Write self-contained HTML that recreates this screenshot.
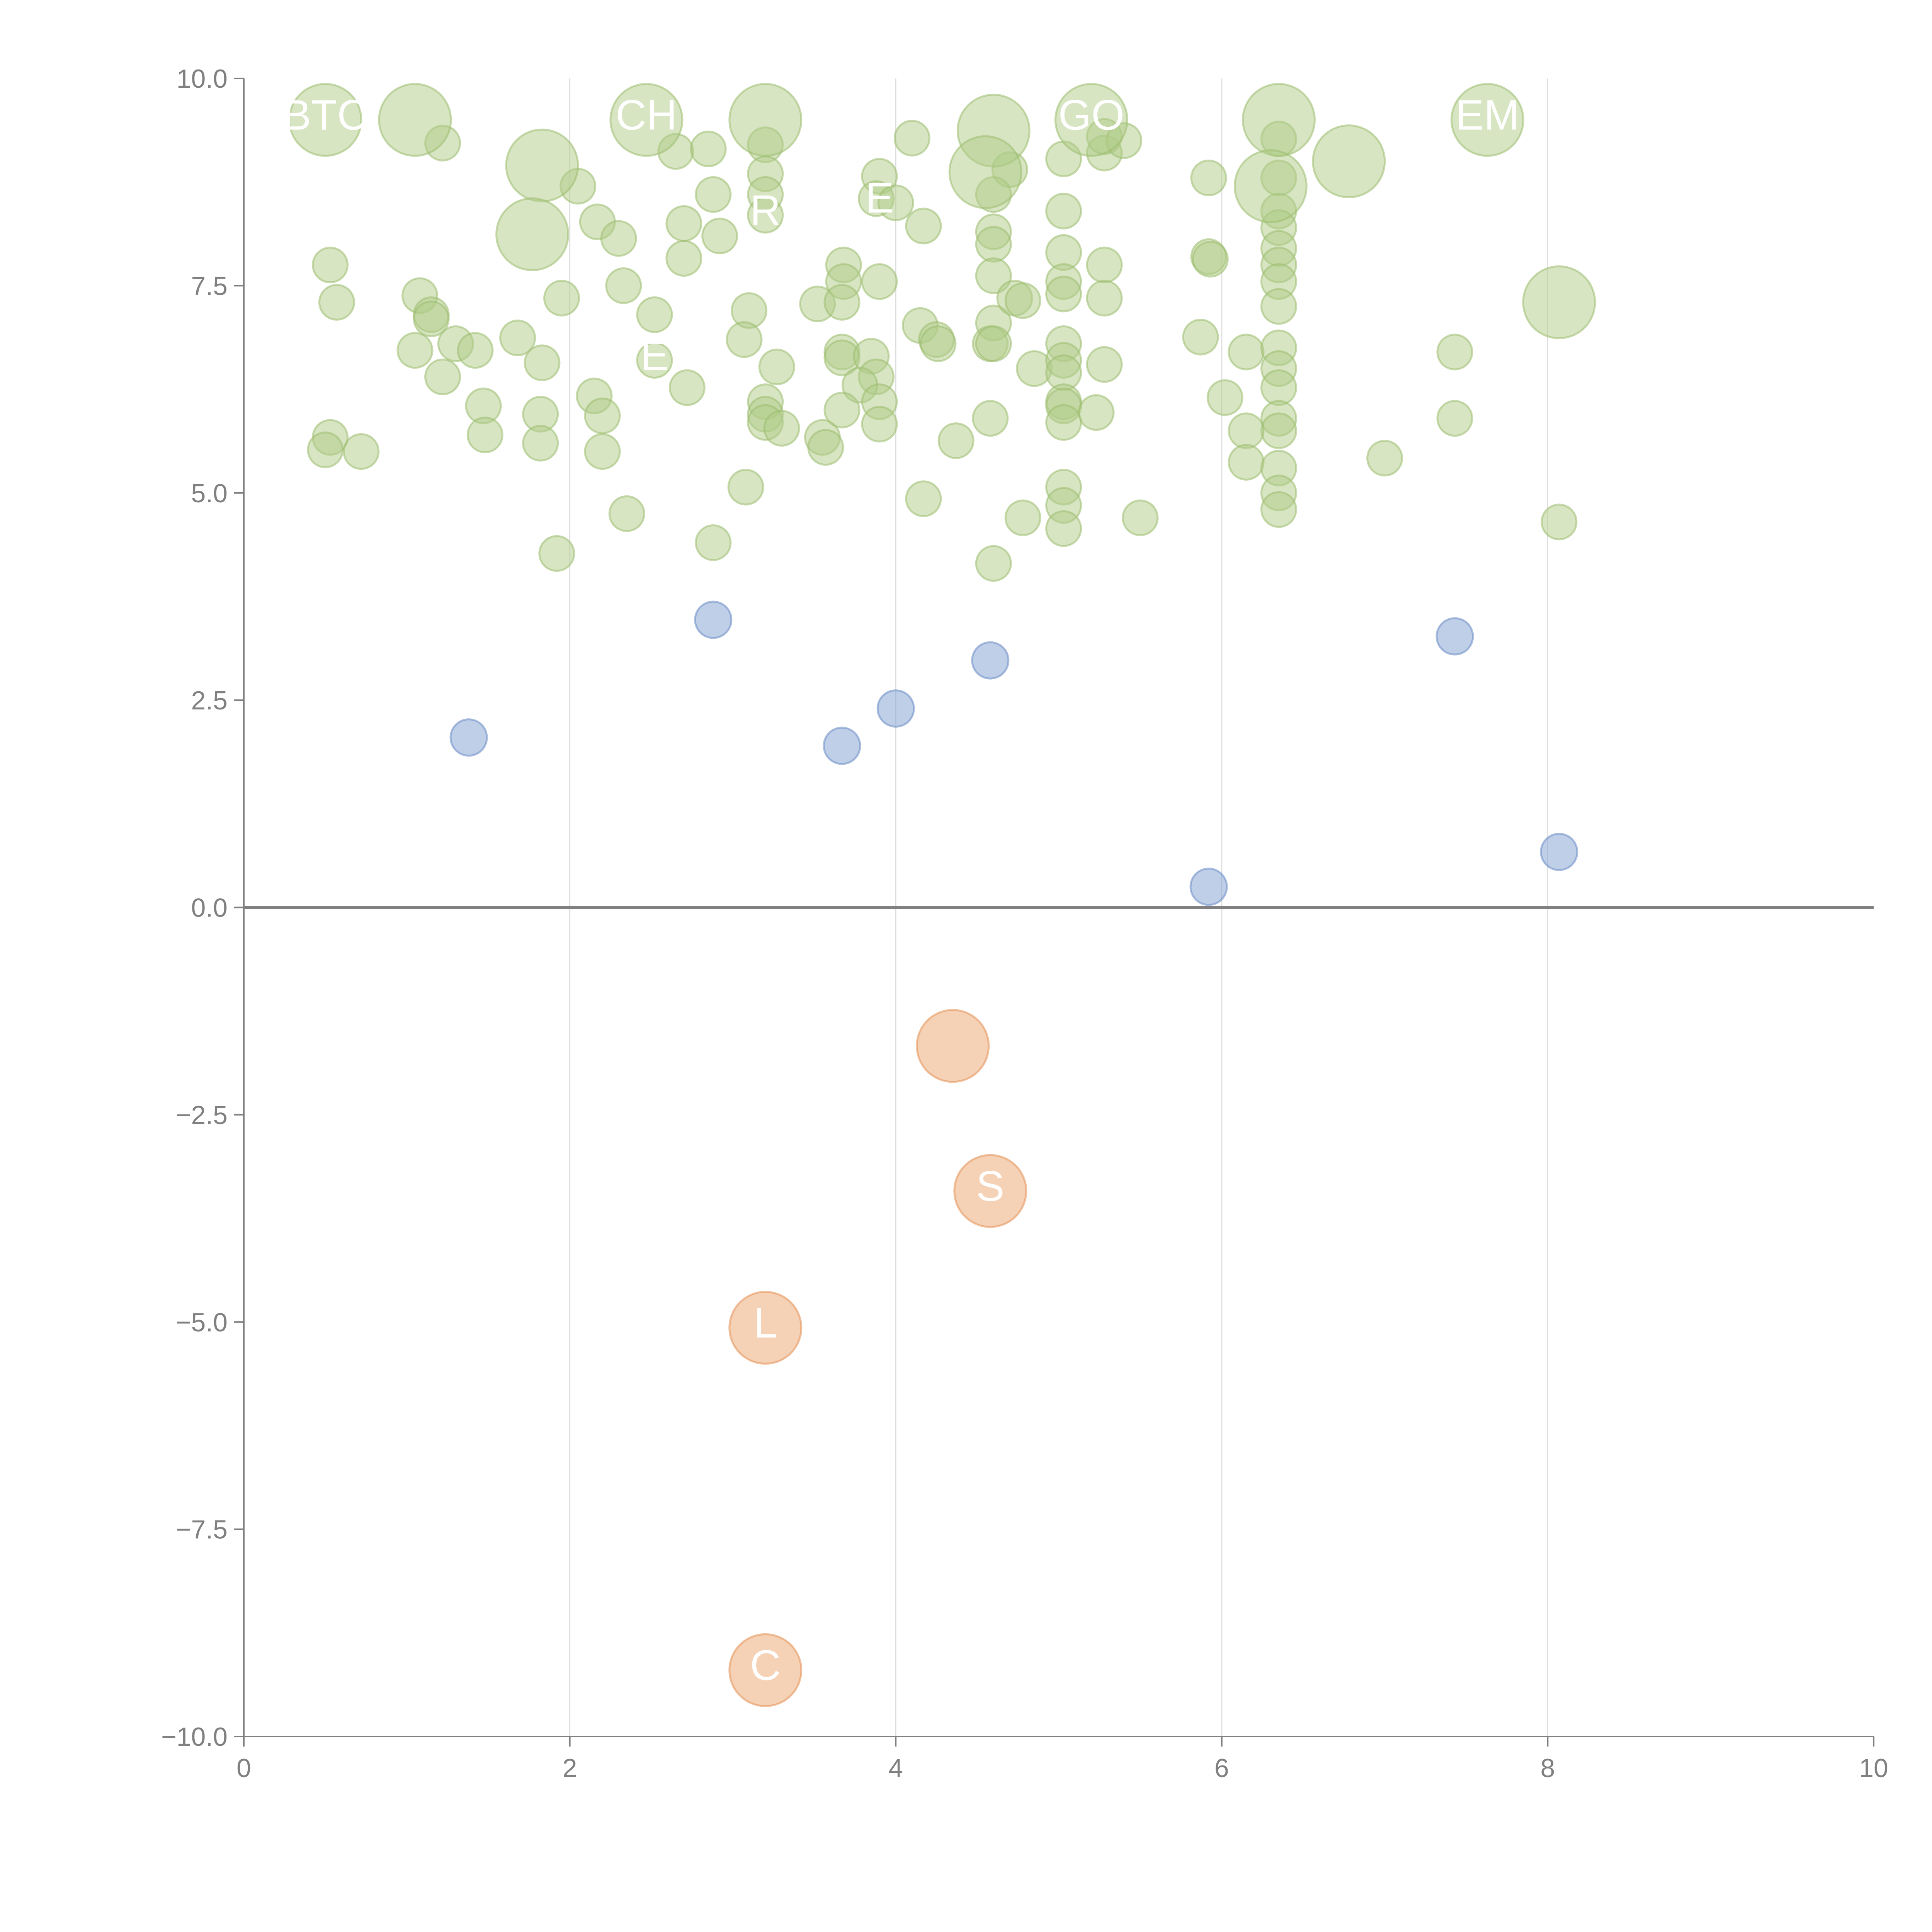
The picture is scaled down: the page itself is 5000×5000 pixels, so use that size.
<!DOCTYPE html>
<html><head><meta charset="utf-8">
<style>
html,body{margin:0;padding:0;background:#fff;}
svg{display:block;font-family:"Liberation Sans",sans-serif;}
</style></head>
<body>
<svg id="chart" width="5000" height="5000" viewBox="0 0 5000 5000" xmlns="http://www.w3.org/2000/svg">
<rect width="5000" height="5000" fill="#fff"/>
<g id="grid"></g>
<g id="marks"></g>
<g id="axes"></g>
</svg>
<script>
const xTicks=[0,2,4,6,8,10];
const yTicks=[10,7.5,5,2.5,0,-2.5,-5,-7.5,-10];
const yTickLabels=["10.0","7.5","5.0","2.5","0.0","\u22122.5","\u22125.0","\u22127.5","\u221210.0"];
const bigGreenX=[0.5,1.05,1.83,1.77,2.47,3.2,4.6,4.55,5.2,6.35,6.3,6.78,7.63,8.07];
const bigGreenY=[9.5,9.5,8.95,8.12,9.5,9.5,9.37,8.87,9.5,9.5,8.7,9.0,9.5,7.3];
const greenX=[1.22,2.05,2.17,2.3,2.65,2.85,2.88,2.7,2.92,2.7,3.2,3.2,3.2,3.2,3.9,3.88,4.0,4.1,4.17,4.7,4.6,4.6,4.6,4.6,5.03,5.03,5.03,5.03,5.03,5.28,5.28,5.4,5.28,5.28,5.92,5.92,5.93,6.35,6.35,6.35,6.35,6.35,6.35,6.35,6.35,0.53,0.57,1.08,1.15,1.15,1.05,1.3,1.42,1.68,1.83,1.95,2.33,2.52,2.52,2.72,3.1,3.07,3.27,3.52,3.68,3.68,3.67,3.9,3.67,3.67,3.85,3.88,3.78,3.9,4.15,4.25,4.26,4.6,4.58,4.6,4.73,4.78,4.85,5.03,5.03,5.03,5.03,5.03,5.03,5.28,5.23,5.87,6.15,6.02,6.35,6.35,6.35,6.35,6.35,6.15,6.15,6.35,6.35,6.35,7.43,7.43,7.0,8.07,1.22,1.47,1.48,1.82,1.82,2.15,2.2,2.2,0.53,0.5,0.72,1.92,2.35,2.88,3.08,3.2,3.2,3.2,3.3,3.55,3.57,3.67,3.9,4.37,4.58,4.17,4.6,4.78,5.03,5.03,5.03,5.5];
const greenY=[9.22,8.7,8.27,8.07,9.12,9.15,8.6,8.25,8.1,7.83,9.2,8.85,8.6,8.35,8.82,8.55,8.5,9.28,8.22,8.9,8.6,8.15,8.0,7.62,9.03,8.4,7.9,7.55,7.4,9.1,9.3,9.25,7.75,7.35,8.8,7.85,7.82,9.27,8.8,8.4,8.2,7.95,7.75,7.55,7.25,7.75,7.3,7.38,7.15,7.1,6.72,6.8,6.72,6.87,6.57,7.35,7.5,7.15,6.6,6.27,7.2,6.85,6.52,7.28,7.75,7.55,7.3,7.55,6.7,6.63,6.65,6.4,6.3,6.1,7.02,6.85,6.8,7.05,6.8,6.8,7.35,7.32,6.5,6.8,6.6,6.45,6.1,6.05,5.85,6.55,5.97,6.88,6.7,6.15,6.75,6.5,6.27,5.9,5.75,5.75,5.37,5.3,5.0,4.8,6.7,5.9,5.42,4.65,6.4,6.05,5.7,5.95,5.6,6.17,5.93,5.5,5.67,5.52,5.5,4.27,4.75,4.4,5.07,6.1,5.95,5.85,5.78,5.67,5.55,6.0,5.83,5.63,5.9,4.93,4.15,4.7,5.07,4.85,4.57,4.7];
const blueX=[1.38,2.88,3.67,4.0,4.58,5.92,7.43,8.07];
const blueY=[2.05,3.47,1.95,2.4,2.98,0.25,3.27,0.67];
const orangeX=[4.35,4.58,3.2,3.2];
const orangeY=[-1.67,-3.42,-5.07,-9.2];
const labelText=["BTC","CH","GO","EM","R","E","E","S","L","C"];
const labelX=[0.5,2.47,5.2,7.63,3.2,3.9,2.52,4.58,3.2,3.2];
const labelY=[9.5,9.5,9.5,9.5,8.35,8.5,6.6,-3.42,-5.07,-9.2];

const X0=631,X1=4849,Y0=4494,Y1=203;
const sx=v=>X0+(v-0)/(10-0)*(X1-X0);
const sy=v=>Y0-(v+10)/20*(Y0-Y1);
const NS="http://www.w3.org/2000/svg";
function mk(tag,parent,attrs){const e=document.createElementNS(NS,tag);for(const k in attrs)e.setAttribute(k,attrs[k]);parent.appendChild(e);return e;}
const grid=document.getElementById('grid'),marks=document.getElementById('marks'),axes=document.getElementById('axes');

xTicks.forEach(t=>{if(t===0||t===10)return;
 const l=mk('line',grid,{x1:sx(t),x2:sx(t),y1:Y1,y2:Y0,stroke:'#dedede','stroke-width':3});
 
 
});

function bubbles(xs,ys,r,fill,stroke,name){
 xs.forEach((x,i)=>{
  const c=mk('circle',marks,{cx:sx(x),cy:sy(ys[i]),r:r,fill:fill,'fill-opacity':0.5,stroke:stroke,'stroke-opacity':0.55,'stroke-width':5});
  
  
 });
}
bubbles(greenX,greenY,45,'#b0cc88','#9dbd70','green-bubble');
bubbles(bigGreenX,bigGreenY,93,'#b0cc88','#9dbd70','large-green-bubble');
bubbles(blueX,blueY,47,'#7f9fd0','#6a8cc6','blue-bubble');
bubbles(orangeX,orangeY,93,'#eba36c','#e39256','orange-bubble');

labelText.forEach((t,i)=>{
 const tx=mk('text',marks,{x:sx(labelX[i]),y:sy(labelY[i])+25,fill:'#fff','font-size':110,'text-anchor':'middle'});
 tx.textContent=t;
 
 
});

// zero line
const z=mk('line',axes,{x1:X0,x2:X1,y1:sy(0),y2:sy(0),stroke:'#808080','stroke-width':7});


const ya=mk('line',axes,{x1:X0,x2:X0,y1:Y1,y2:Y0,stroke:'#808080','stroke-width':4});


const xa=mk('line',axes,{x1:X0,x2:X1,y1:Y0,y2:Y0,stroke:'#808080','stroke-width':4});



xTicks.forEach(t=>{
 const tk=mk('line',axes,{x1:sx(t),x2:sx(t),y1:Y0,y2:Y0+26,stroke:'#808080','stroke-width':4});
 
 
 const tx=mk('text',axes,{x:sx(t),y:Y0+105,fill:'#808080','font-size':68,'text-anchor':'middle'});
 tx.textContent=String(t);
 
 
});
yTicks.forEach((t,i)=>{
 const tk=mk('line',axes,{x1:X0-26,x2:X0,y1:sy(t),y2:sy(t),stroke:'#808080','stroke-width':4});
 
 
 const tx=mk('text',axes,{x:X0-42,y:sy(t)+24,fill:'#808080','font-size':68,'text-anchor':'end'});
 tx.textContent=yTickLabels[i];
 
 
});
</script>
</body></html>
